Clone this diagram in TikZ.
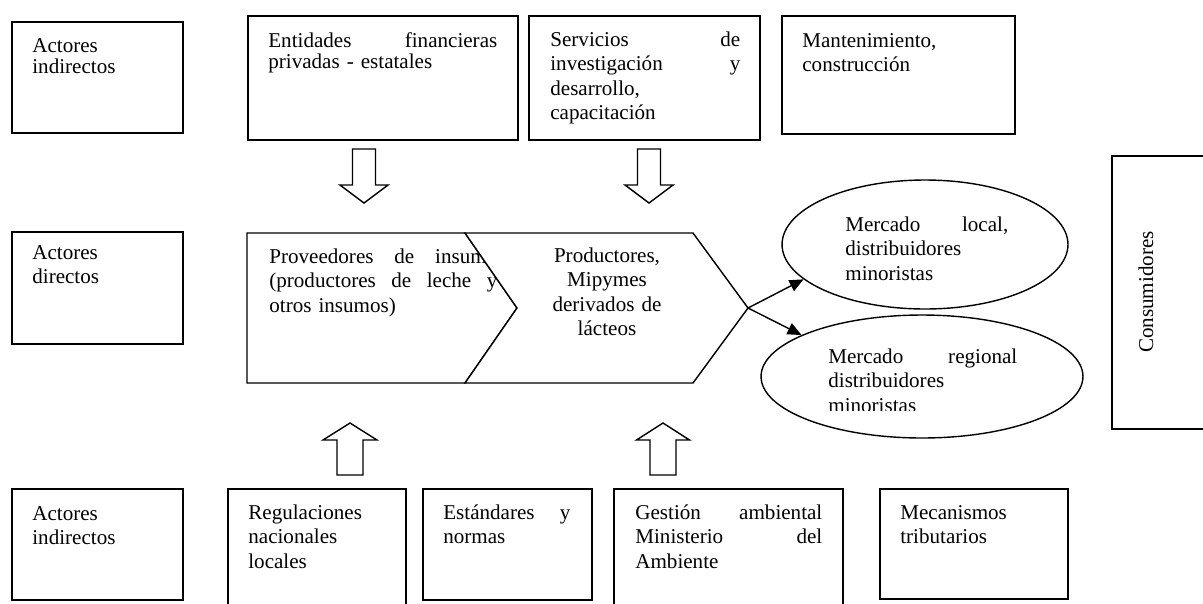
\documentclass[tikz,border=0pt]{standalone}
\usepackage{fontspec}
\setmainfont{Liberation Serif}
\usetikzlibrary{shapes.geometric, arrows.meta, fit}

\begin{document}
\begin{tikzpicture}[x=0.02cm, y=-0.02cm,
		box/.style={draw, rectangle, line width=0.8pt, inner sep=0pt},
		lbl/.style={anchor=base west, inner sep=0pt, align=left, text width=3.2cm, font=\fontsize{12}{14}\selectfont},
		tight/.style={font=\fontsize{12}{12}\selectfont},
		mkt/.style={draw, ellipse, line width=0.8pt, inner sep=0pt},
		blk/.style={draw, line width=0.8pt, fill=white, line join=miter},
		flow/.style={line width=0.8pt, -{Triangle[length=2.8mm, width=2.4mm]}}]
	\useasboundingbox (0, 0) rectangle (1203, 603);
	\clip (0, 0) rectangle (1203, 603);

	% actores indirectos (arriba)
	\node[box, fit={(12, 22) (183, 133)}] (indA) {};
	\node[box, fit={(248, 16) (518, 140)}] (fin) {};
	\node[box, fit={(529, 16) (760, 140)}] (serv) {};
	\node[box, fit={(782, 16) (1015, 134)}] (mant) {};
	\node[lbl, tight] (indA-t) at (32, 52) {Actores\\indirectos};
	\node[lbl, tight, text width=4.58cm] (fin-t) at (268, 47) {Entidades\hfill financieras\\privadas - estatales};
	\node[lbl, text width=3.8cm] (serv-t) at (550, 46) {Servicios\hfill de\\investigación\hfill y\\desarrollo,\\capacitación};
	\node[lbl] (mant-t) at (802, 47) {Mantenimiento,\\construcción};

	% actores directos
	\node[box, fit={(12, 232) (183, 344)}] (dir) {};
	\node[lbl] (dir-t) at (32, 259) {Actores\\directos};
	\draw[blk] (247, 233) -- (465, 233) -- (517, 308) -- (465, 383) -- (247, 383) -- cycle;
	\node[lbl, text width=4.56cm] (prov) at (269, 263) {Proveedores\hfill de\hfill insumo\\(productores\hfill de\hfill leche\hfill y\\otros insumos)};
	\draw[blk] (465, 233) -- (693, 233) -- (748, 308) -- (693, 383) -- (465, 383) -- (517, 308) -- cycle;
	\coordinate (tip) at (748, 308);
	\node[lbl, anchor=base, align=center, text width=4cm] (prod) at (607, 262) {Productores,\\Mipymes\\derivados de\\lácteos};

	\node[mkt, minimum width=5.72cm, minimum height=2.58cm] (mloc) at (925, 244.5) {};
	\node[mkt, minimum width=6.44cm, minimum height=2.46cm] (mreg) at (922, 376.5) {};
	\node[lbl, text width=3.26cm] (mloc-t) at (845, 231) {Mercado\hfill local,\\distribuidores\\minoristas};
	\begin{scope}
		\clip (780, 330) rectangle (1080, 410);
		\node[lbl, text width=3.78cm] (mreg-t) at (828, 363) {Mercado\hfill regional\\distribuidores\\minoristas};
	\end{scope}
	\draw[flow] (tip) -- (mloc.196);
	\draw[flow] (tip) -- (mreg.161);

	\node[box, fit={(1112, 156) (1215, 429)}] (cons) {};
	\node[rotate=90, inner sep=0pt, font=\fontsize{12}{14}\selectfont] (cons-t) at (1146, 292) {Consumidores};

	% flechas de bloque
	\foreach \x/\ya/\yb/\yt/\w/\h in {364/149/185/203/11.5/24, 649/149/185/203/11.5/24, 350/475/440/423/13/27, 663/475/440/423/13/26.5}
		\draw[blk] (\x-\w, \ya) -- (\x+\w, \ya) -- (\x+\w, \yb) -- (\x+\h, \yb) -- (\x, \yt) -- (\x-\h, \yb) -- (\x-\w, \yb) -- cycle;

	% actores indirectos (abajo)
	\node[box, fit={(12, 489) (183, 600)}] (indB) {};
	\node[box, fit={(228, 489) (406, 620)}] (reg) {};
	\node[box, fit={(423, 489) (592, 600)}] (est) {};
	\node[box, fit={(614, 489) (843, 620)}] (gest) {};
	\node[box, fit={(880, 489) (1068, 599)}] (mec) {};
	\node[lbl] (indB-t) at (32, 520) {Actores\\indirectos};
	\node[lbl] (reg-t) at (248, 519) {Regulaciones\\nacionales\\locales};
	\node[lbl, text width=2.54cm] (est-t) at (443, 519) {Estándares\hfill y\\normas};
	\node[lbl, text width=3.74cm] (gest-t) at (635, 519) {Gestión\hfill ambiental\\Ministerio\hfill del\\Ambiente};
	\node[lbl] (mec-t) at (900, 519) {Mecanismos\\tributarios};
\end{tikzpicture}
\end{document}
